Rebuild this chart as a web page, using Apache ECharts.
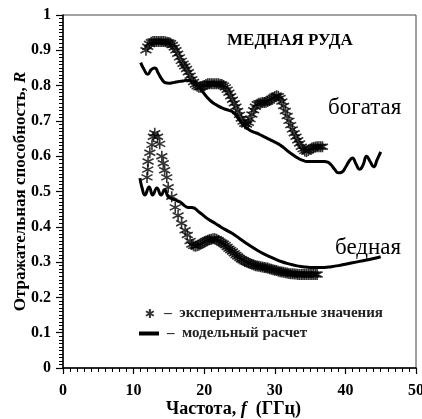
<!DOCTYPE html>
<html>
<head>
<meta charset="utf-8">
<script src="https://cdn.jsdelivr.net/npm/echarts@6/dist/echarts.min.js"></script>
<style>
  html, body { margin: 0; padding: 0; background: #fff; }
  #chart { width: 422px; height: 419px; }
</style>
</head>
<body>
<div id="chart"></div>
<script>
// Reflectance of copper ore vs frequency: measured points and model curves
const xTicks = [0, 10, 20, 30, 40, 50];
const yTicks = [0, 0.1, 0.2, 0.3, 0.4, 0.5, 0.6, 0.7, 0.8, 0.9, 1];

const expName = 'экспериментальные значения';
const modelName = 'модельный расчет';

// rich ore, measured [f, R]
const richExp = [
  [11.75,0.900],[12.0,0.910],[12.25,0.918],[12.5,0.923],[12.75,0.925],[13.0,0.925],[13.25,0.925],[13.5,0.925],
  [13.75,0.925],[14.0,0.925],[14.25,0.925],[14.5,0.924],[14.75,0.923],[15.0,0.922],[15.25,0.920],[15.5,0.915],
  [15.75,0.908],[16.0,0.900],[16.25,0.890],[16.5,0.880],[16.75,0.870],[17.0,0.862],[17.25,0.855],[17.5,0.847],
  [17.75,0.838],[18.0,0.828],[18.25,0.818],[18.5,0.810],[18.75,0.803],[19.0,0.798],[19.25,0.795],[19.5,0.795],
  [19.75,0.797],[20.0,0.800],[20.25,0.803],[20.5,0.805],[20.75,0.805],[21.0,0.805],[21.25,0.805],[21.5,0.805],
  [21.75,0.805],[22.0,0.805],[22.25,0.804],[22.5,0.803],[22.75,0.800],[23.0,0.795],[23.25,0.788],[23.5,0.780],
  [23.75,0.770],[24.0,0.760],[24.25,0.750],[24.5,0.740],[24.75,0.728],[25.0,0.717],[25.25,0.707],[25.5,0.698],
  [25.75,0.692],[26.0,0.690],[26.25,0.695],[26.5,0.705],[26.75,0.718],[27.0,0.730],[27.25,0.740],[27.5,0.747],
  [27.75,0.750],[28.0,0.751],[28.25,0.752],[28.5,0.752],[28.75,0.753],[29.0,0.755],[29.25,0.758],[29.5,0.762],
  [29.75,0.766],[30.0,0.769],[30.25,0.771],[30.5,0.770],[30.75,0.765],[31.0,0.755],[31.25,0.742],[31.5,0.728],
  [31.75,0.714],[32.0,0.700],[32.25,0.688],[32.5,0.676],[32.75,0.665],[33.0,0.655],[33.25,0.645],[33.5,0.636],
  [33.75,0.627],[34.0,0.620],[34.25,0.615],[34.5,0.613],[34.75,0.616],[35.0,0.620],[35.25,0.623],[35.5,0.625],
  [35.75,0.626],[36.0,0.627],[36.25,0.627],[36.5,0.627],[36.75,0.627]
];

// rich ore, model [f, R]
const richModel = [
  [11.0,0.865],[11.5,0.845],[12.0,0.832],[12.5,0.845],[13.0,0.850],[13.5,0.835],[14.0,0.818],[14.5,0.808],
  [15.0,0.807],[15.5,0.808],[16.0,0.810],[16.5,0.812],[17.0,0.813],[17.5,0.815],[18.0,0.814],[18.5,0.810],
  [19.0,0.803],[19.5,0.790],[20.0,0.777],[20.5,0.765],[21.0,0.755],[21.5,0.748],[22.0,0.742],[22.5,0.737],
  [23.0,0.733],[23.5,0.730],[24.0,0.726],[24.5,0.716],[25.0,0.702],[25.5,0.690],[26.0,0.680],[26.5,0.673],
  [27.0,0.668],[27.5,0.665],[28.0,0.660],[28.5,0.655],[29.0,0.650],[29.5,0.645],[30.0,0.640],[30.5,0.635],
  [31.0,0.628],[31.5,0.620],[32.0,0.612],[32.5,0.605],[33.0,0.598],[33.5,0.592],[34.0,0.588],[34.5,0.585],
  [35.0,0.585],[35.5,0.585],[36.0,0.585],[36.5,0.585],[37.0,0.585],[37.5,0.583],[38.0,0.575],[38.5,0.562],
  [39.0,0.553],[39.5,0.555],[40.0,0.568],[40.5,0.585],[41.0,0.595],[41.5,0.578],[42.0,0.563],[42.5,0.575],
  [43.0,0.600],[43.5,0.585],[44.0,0.570],[44.5,0.590],[45.0,0.612]
];

// poor ore, measured [f, R]
const poorExp = [
  [11.9,0.540],[12.0,0.562],[12.05,0.585],[12.3,0.610],[12.6,0.632],[12.8,0.655],[13.0,0.665],[13.4,0.655],
  [13.7,0.635],[14.0,0.600],[14.2,0.580],[14.4,0.560],[14.7,0.540],[14.9,0.512],[15.4,0.485],[15.9,0.455],
  [16.3,0.432],[16.8,0.410],[17.3,0.390],[17.6,0.377],[18.0,0.360],
  [18.25,0.350],[18.5,0.346],[18.75,0.345],[19.0,0.346],[19.25,0.348],[19.5,0.351],[19.75,0.354],[20.0,0.357],
  [20.25,0.360],[20.5,0.362],[20.75,0.364],[21.0,0.365],[21.25,0.366],[21.5,0.366],[21.75,0.365],[22.0,0.362],
  [22.25,0.358],[22.5,0.355],[22.75,0.352],[23.0,0.348],[23.25,0.343],[23.5,0.338],[23.75,0.334],[24.0,0.330],
  [24.25,0.325],[24.5,0.320],[24.75,0.316],[25.0,0.312],[25.25,0.308],[25.5,0.305],[25.75,0.302],[26.0,0.300],
  [26.25,0.298],[26.5,0.296],[26.75,0.294],[27.0,0.292],[27.25,0.290],[27.5,0.289],[27.75,0.288],[28.0,0.287],
  [28.25,0.286],[28.5,0.285],[28.75,0.284],[29.0,0.283],[29.25,0.281],[29.5,0.280],[29.75,0.278],[30.0,0.277],
  [30.25,0.276],[30.5,0.274],[30.75,0.273],[31.0,0.272],[31.25,0.271],[31.5,0.270],[31.75,0.269],[32.0,0.268],
  [32.25,0.267],[32.5,0.267],[32.75,0.266],[33.0,0.266],[33.25,0.265],[33.5,0.265],[33.75,0.265],[34.0,0.265],
  [34.25,0.265],[34.5,0.265],[34.75,0.265],[35.0,0.265],[35.25,0.265],[35.5,0.265],[35.75,0.265],[36.0,0.265]
];

// poor ore, model [f, R]
const poorModel = [
  [10.9,0.538],[11.2,0.510],[11.6,0.490],[12.2,0.513],[12.7,0.490],[13.3,0.510],[13.9,0.490],[14.4,0.505],
  [14.9,0.485],[15.4,0.480],[16.0,0.475],[16.6,0.470],[17.2,0.460],[17.7,0.455],[18.2,0.455],[18.7,0.452],
  [19.2,0.443],[19.7,0.435],[20.2,0.427],[20.7,0.420],[21.2,0.414],[22.0,0.404],[23.0,0.392],[24.0,0.381],
  [25.0,0.367],[26.0,0.353],[27.0,0.340],[28.0,0.328],[29.0,0.318],[30.0,0.309],[31.0,0.301],[32.0,0.295],
  [33.0,0.290],[34.0,0.287],[35.0,0.285],[36.0,0.285],[37.0,0.285],[38.0,0.287],[39.0,0.290],[40.0,0.294],
  [41.0,0.298],[42.0,0.302],[43.0,0.306],[44.0,0.310],[45.0,0.315]
];

const serif = '"Liberation Serif", "Times New Roman", serif';
const asterisk = 'path://M5,0L5,10M0.7,2.5L9.3,7.5M0.7,7.5L9.3,2.5';

const expStyle = {
  type: 'scatter',
  name: expName,
  symbol: asterisk,
  symbolSize: 11,
  itemStyle: { color: '#000', borderColor: '#000', borderWidth: 1.6 },
  z: 3
};
const modelStyle = {
  type: 'line',
  name: modelName,
  smooth: 0.5,
  showSymbol: false,
  lineStyle: { color: '#000', width: 3 },
  itemStyle: { color: '#000' },
  z: 4
};

const chart = echarts.init(document.getElementById('chart'), null, { renderer: 'canvas' });
chart.setOption({
  animation: false,
  backgroundColor: '#fff',
  grid: {
    left: 63, right: 6, top: 15, bottom: 51,
    show: true, borderColor: '#444', borderWidth: 1,
    outerBoundsMode: 'none'
  },
  xAxis: {
    type: 'value',
    min: xTicks[0], max: xTicks[xTicks.length - 1], interval: 10,
    splitLine: { show: false },
    axisLine: { lineStyle: { color: '#000', width: 1.5 } },
    axisTick: { show: true, length: 6, lineStyle: { color: '#000', width: 1.2 } },
    minorTick: { show: true, splitNumber: 10, length: 4, lineStyle: { color: '#000', width: 1 } },
    axisLabel: { color: '#000', fontFamily: serif, fontWeight: 'bold', fontSize: 16, margin: 15 },
    name: '{a|Частота, }{i|f}{a|  (ГГц)}',
    nameLocation: 'middle',
    nameGap: 32,
    nameMoveOverlap: false,
    nameTextStyle: {
      padding: [0, 12, 0, 0],
      rich: {
        a: { fontFamily: serif, fontWeight: 'bold', fontSize: 18, color: '#000' },
        i: { fontFamily: serif, fontWeight: 'bold', fontStyle: 'italic', fontSize: 18, color: '#000' }
      }
    }
  },
  yAxis: {
    type: 'value',
    min: yTicks[0], max: yTicks[yTicks.length - 1], interval: 0.1,
    splitLine: { show: false },
    axisLine: { lineStyle: { color: '#000', width: 1.5 } },
    axisTick: { show: true, length: 7, lineStyle: { color: '#000', width: 1.2 } },
    minorTick: { show: true, splitNumber: 10, length: 4, lineStyle: { color: '#000', width: 1 } },
    axisLabel: { color: '#000', fontFamily: serif, fontWeight: 'bold', fontSize: 16, margin: 12 },
    name: '{a|Отражательная способность, }{i|R}',
    nameLocation: 'middle',
    nameGap: 34,
    nameMoveOverlap: false,
    nameTextStyle: {
      rich: {
        a: { fontFamily: serif, fontWeight: 'bold', fontSize: 17, color: '#000' },
        i: { fontFamily: serif, fontWeight: 'bold', fontStyle: 'italic', fontSize: 17, color: '#000' }
      }
    }
  },
  legend: [
    {
      data: [{ name: expName, icon: asterisk }],
      left: 140, top: 301,
      itemWidth: 9, itemHeight: 9,
      selectedMode: false,
      formatter: '–  {name}',
      textStyle: { fontFamily: serif, fontSize: 15, fontWeight: 'bold', color: '#222', padding: [0, 0, 0, 5] }
    },
    {
      data: [{ name: modelName, icon: 'rect' }],
      left: 134, top: 321,
      itemWidth: 20, itemHeight: 4,
      selectedMode: false,
      formatter: '–  {name}',
      textStyle: { fontFamily: serif, fontSize: 15, fontWeight: 'bold', color: '#222', padding: [0, 0, 0, 3] }
    }
  ],
  graphic: [
    { type: 'text', left: 227, top: 32,
      style: { text: 'МЕДНАЯ РУДА', font: 'bold 17px ' + serif, fill: '#000' } },
    { type: 'text', left: 328, top: 96,
      style: { text: 'богатая', font: '23px ' + serif, fill: '#000' } },
    { type: 'text', left: 335, top: 236,
      style: { text: 'бедная', font: '23px ' + serif, fill: '#000' } }
  ],
  series: [
    Object.assign({}, expStyle, { data: richExp }),
    Object.assign({}, expStyle, { data: poorExp }),
    Object.assign({}, modelStyle, { data: richModel }),
    Object.assign({}, modelStyle, { data: poorModel })
  ]
});
</script>
</body>
</html>
